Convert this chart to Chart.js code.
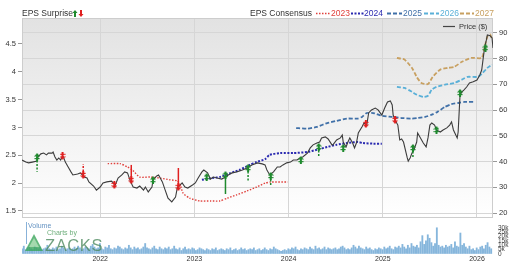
<!DOCTYPE html>
<html><head><meta charset="utf-8">
<script src="https://cdn.jsdelivr.net/npm/chart.js@4.4.1/dist/chart.umd.min.js"></script>
<style>
html,body{margin:0;padding:0;background:#fff;width:522px;height:264px;overflow:hidden;font-family:"Liberation Sans",Arial,Helvetica,sans-serif;}
#wrap{position:relative;width:522px;height:264px;}
canvas{position:absolute;left:0;}
.t{position:absolute;white-space:nowrap;line-height:1;}
</style></head><body>
<div id="wrap">
<canvas id="main" width="522" height="264" style="top:0"></canvas>
<canvas id="vol" width="522" height="46" style="top:218px"></canvas>
<svg width="522" height="30" style="position:absolute;left:0;top:0">
  <polygon points="75,10 77.5,13 76,13 76,17 74,17 74,13 72.5,13" fill="#1f8a2e"/>
  <polygon points="81,17 83.5,14 82,14 82,10 80,10 80,14 78.5,14" fill="#e02020"/>
  <line x1="316" y1="13.5" x2="330" y2="13.5" stroke="#e0403c" stroke-width="1.5" stroke-dasharray="1.5,1.5"/>
  <line x1="351" y1="13.5" x2="364" y2="13.5" stroke="#2a2ab0" stroke-width="2" stroke-dasharray="2,1.5"/>
  <line x1="387" y1="13.5" x2="402" y2="13.5" stroke="#4070a8" stroke-width="1.8" stroke-dasharray="4,2"/>
  <line x1="424" y1="13.5" x2="439" y2="13.5" stroke="#5ab0d8" stroke-width="1.8" stroke-dasharray="4,2"/>
  <line x1="460" y1="13.5" x2="474" y2="13.5" stroke="#c8a060" stroke-width="1.8" stroke-dasharray="4,2"/>
  <line x1="443" y1="26.5" x2="455" y2="26.5" stroke="#444" stroke-width="1.2"/>
</svg>
<span class="t" style="left:22px;top:9px;font-size:8.5px;color:#333">EPS Surprise</span>
<span class="t" style="left:250px;top:9px;font-size:8.5px;color:#333">EPS Consensus</span>
<span class="t" style="left:331px;top:9px;font-size:8.5px;color:#e0403c">2023</span>
<span class="t" style="left:364px;top:9px;font-size:8.5px;color:#2a2ab0">2024</span>
<span class="t" style="left:403px;top:9px;font-size:8.5px;color:#4070a8">2025</span>
<span class="t" style="left:440px;top:9px;font-size:8.5px;color:#5ab0d8">2026</span>
<span class="t" style="left:475px;top:9px;font-size:8.5px;color:#c8a060">2027</span>
<span class="t" style="left:459px;top:23px;font-size:7.5px;color:#333">Price ($)</span>
<div style="position:absolute;left:26px;top:222px;width:0;height:22px;border-left:1px solid #6a9fd0;opacity:.8"></div>
<span class="t" style="left:28px;top:222px;font-size:7px;color:#4a80b8;opacity:.85">Volume</span>
<span class="t" style="left:47px;top:229px;font-size:7px;color:#4a9a5a;opacity:.8">Charts by</span>
<svg width="22" height="20" style="position:absolute;left:25px;top:234px;opacity:.8">
  <polygon points="9,0 18,17 0,17" fill="#3aa55a"/>
  <polygon points="9,4 14,13 4,13" fill="#8fd09a"/>
</svg>
<span class="t" style="left:45px;top:237px;font-size:16.5px;letter-spacing:0.6px;color:#4e8a60;opacity:.8">ZACKS</span>
</div>
<script>
// ---------- data ----------
const YEAR_TICKS = [2022, 2023, 2024, 2025, 2026];
const EPS_TICKS = [1.5, 2, 2.5, 3, 3.5, 4, 4.5];
const PRICE_TICKS = [20, 30, 40, 50, 60, 70, 80, 90];
const VOL_TICKS_K = [0, 5, 10, 15, 20, 25, 30];

const PRICE_T = [2021.17,2021.21,2021.24,2021.28,2021.33,2021.34,2021.37,2021.40,2021.43,2021.45,2021.49,2021.50,2021.52,2021.54,2021.56,2021.58,2021.60,2021.61,2021.63,2021.66,2021.69,2021.71,2021.76,2021.79,2021.81,2021.83,2021.86,2021.88,2021.93,2021.96,
2022.00,2022.03,2022.07,2022.12,2022.16,2022.19,2022.23,2022.26,2022.29,2022.32,2022.35,2022.39,2022.42,2022.46,2022.48,2022.51,2022.55,2022.56,2022.60,2022.62,2022.66,2022.69,2022.72,2022.76,2022.80,2022.82,2022.83,2022.87,2022.90,2022.93,2022.98,
2023.01,2023.04,2023.08,2023.10,2023.14,2023.17,2023.20,2023.24,2023.29,2023.33,2023.36,2023.40,2023.45,2023.51,2023.56,2023.61,2023.67,2023.72,2023.75,2023.77,2023.80,2023.84,2023.88,2023.91,2023.94,2023.98,
2024.02,2024.05,2024.09,2024.12,2024.15,2024.20,2024.23,2024.26,2024.30,2024.33,2024.35,2024.39,2024.42,2024.46,2024.47,2024.51,2024.55,2024.57,2024.58,2024.61,2024.63,2024.65,2024.68,2024.70,2024.72,2024.74,2024.78,2024.80,2024.83,2024.85,2024.88,2024.92,2024.95,2024.99,
2025.02,2025.05,2025.08,2025.10,2025.11,2025.13,2025.16,2025.18,2025.20,2025.22,2025.26,2025.27,2025.29,2025.31,2025.33,2025.36,2025.37,2025.40,2025.43,2025.46,2025.48,2025.50,2025.52,2025.55,2025.57,2025.61,2025.64,2025.68,2025.71,2025.73,2025.75,2025.79,2025.80,2025.82,2025.84,2025.86,2025.89,2025.92,2025.96,
2026.00,2026.03,2026.05,2026.08,2026.10,2026.11,2026.14,2026.16,2026.17];
const PRICE = [40.6,39.8,39.5,39.8,40.2,41.8,43.0,43.3,42.6,43.3,43.3,43.7,41.8,40.6,41.4,40.6,42.2,41.8,39.8,37.9,36.0,34.8,35.2,35.6,34.8,34.0,33.6,32.1,30.5,28.9,
30.1,31.7,32.1,32.4,30.9,33.6,34.8,36.0,35.6,32.4,30.1,29.7,30.5,28.9,30.1,28.2,30.1,32.8,34.4,34.8,32.1,28.9,25.8,24.3,26.2,30.1,30.1,31.7,30.1,29.7,30.9,
31.7,33.6,36.0,36.7,35.6,33.2,34.0,33.6,33.2,34.0,34.8,35.6,36.0,36.7,37.5,38.7,39.5,39.1,38.7,36.7,34.8,36.0,37.9,37.9,38.7,39.5,
39.8,40.6,40.6,41.4,41.8,43.3,45.3,46.5,47.2,47.6,49.2,49.6,48.8,46.5,46.5,48.4,49.2,50.3,47.6,45.7,47.6,49.2,47.2,45.3,47.2,51.1,53.5,55.0,54.2,58.9,60.1,60.8,60.1,58.1,
60.8,63.2,63.6,62.0,58.1,56.2,54.2,48.4,48.8,47.6,41.4,40.2,41.4,43.3,44.5,47.6,51.1,49.2,47.2,45.7,49.2,54.2,55.0,54.2,52.3,51.5,52.3,53.1,54.2,55.4,52.3,49.2,51.5,65.9,67.1,67.8,69.0,70.6,71.0,
71.7,73.7,75.6,84.2,87.3,89.2,88.9,88.1,84.2];

// EPS surprises: date, price where marker sits, direction, end of surprise bar (price units), solid bar?
const SURPRISE_T     = [2021.33,2021.60,2021.82,2022.15,2022.33,2022.56,2022.83,2023.13,2023.33,2023.57,2023.81,2024.13,2024.32,2024.58,2024.82,2025.13,2025.32,2025.57,2025.82,2026.09];
const SURPRISE_PRICE = [41.8,42.2,34.8,30.9,32.8,32.8,30.1,34.0,34.8,37.5,34.4,40.6,45.7,45.3,54.6,56.2,45.3,52.3,66.7,84.2];
const SURPRISE_DIR   = ['up','down','down','down','down','up','down','up','up','up','up','up','up','up','down','down','up','up','up','up'];
const SURPRISE_TAIL  = [36.0,null,39.1,null,38.7,null,37.5,null,27.4,32.4,30.9,null,41.8,null,null,null,41.4,null,null,null];
const SURPRISE_SOLID = [false,false,false,false,true,false,true,false,true,false,false,false,false,false,false,false,false,false,false,false];

// EPS consensus by fiscal year
const C2023_T = [2022.08,2022.21,2022.29,2022.34,2022.42,2022.53,2022.64,2022.74,2022.82,2022.85,2022.88,2022.95,2023.06,2023.17,2023.27,2023.35,2023.45,2023.56,2023.66,2023.75,2023.81,2023.99];
const C2023   = [2.35,2.35,2.29,2.24,2.11,2.11,2.09,2.06,2.04,1.97,1.82,1.73,1.68,1.68,1.68,1.73,1.79,1.86,1.93,2.00,2.02,2.02];
const C2024_T = [2023.08,2023.17,2023.27,2023.38,2023.48,2023.59,2023.66,2023.75,2023.80,2023.91,2024.05,2024.20,2024.30,2024.41,2024.51,2024.62,2024.73,2024.79,2024.90,2024.99];
const C2024   = [2.06,2.09,2.11,2.18,2.24,2.33,2.38,2.43,2.51,2.54,2.54,2.56,2.60,2.65,2.69,2.72,2.74,2.72,2.71,2.71];
const C2025_T = [2024.08,2024.20,2024.30,2024.41,2024.51,2024.62,2024.73,2024.78,2024.83,2024.90,2024.99,2025.10,2025.20,2025.31,2025.37,2025.45,2025.52,2025.58,2025.66,2025.73,2025.80,2025.87,2025.97];
const C2025   = [2.99,2.98,3.01,3.08,3.12,3.16,3.16,3.19,3.26,3.26,3.21,3.19,3.17,3.16,3.17,3.19,3.23,3.28,3.37,3.42,3.44,3.46,3.46];
const C2026_T = [2025.15,2025.23,2025.31,2025.36,2025.43,2025.48,2025.52,2025.57,2025.66,2025.76,2025.84,2025.90,2026.01,2026.06,2026.11,2026.16];
const C2026   = [3.73,3.71,3.64,3.59,3.55,3.57,3.68,3.73,3.77,3.80,3.86,3.91,3.91,3.98,4.07,4.13];
const C2027_T = [2025.15,2025.23,2025.31,2025.36,2025.41,2025.48,2025.53,2025.61,2025.69,2025.76,2025.84,2025.94,2026.05,2026.08,2026.11,2026.14,2026.16];
const C2027   = [4.25,4.22,4.07,3.91,3.80,3.78,3.91,4.04,4.07,4.09,4.18,4.25,4.25,4.43,4.63,4.67,4.58];

// weekly volume (thousands of shares), first week starting at VOL_START
const VOL_START = 2021.17;
const VOLUME_K = [
6,9,5,7,8,6,5,9,7,6,8,5,6,7,10,6,5,7,6,8,5,6,9,7,5,6,
7,5,6,8,6,9,7,5,6,8,7,6,9,11,8,6,7,12,6,5,8,7,10,6,5,7,
6,9,8,6,5,7,6,10,7,5,8,6,7,5,6,8,12,7,6,5,7,9,6,5,8,6,
5,7,6,8,5,6,9,6,5,7,4,6,8,5,6,5,7,6,4,5,7,6,5,4,6,5,
4,6,5,7,4,5,6,5,4,6,5,7,4,5,6,4,5,7,5,6,4,5,6,5,7,4,
5,6,4,5,7,5,4,6,5,8,6,5,4,3,4,5,4,6,5,7,6,8,5,4,6,5,
7,6,5,8,6,5,9,6,7,5,6,8,5,7,6,5,6,7,5,6,8,9,7,5,6,5,
7,10,8,6,9,7,6,5,8,6,7,5,4,6,5,7,6,5,8,6,7,9,6,5,8,7,
9,7,11,8,6,10,7,12,9,8,10,7,14,21,11,15,22,18,13,9,12,30,10,8,9,7,
10,8,9,11,7,14,9,8,24,10,12,8,6,9,5,6,4,7,5,8,9,6,10,13,8,6];

// ---------- drawing ----------
const X_MIN = 2021.17, X_MAX = 2026.17;
const FONT = '"Liberation Sans", Arial, sans-serif';

function arrowCanvas(color, up) {
  const c = document.createElement('canvas'); c.width = 6; c.height = 8;
  const g = c.getContext('2d'); g.fillStyle = color;
  g.save();
  if (!up) { g.translate(0, 8); g.scale(1, -1); }
  g.beginPath(); g.moveTo(3, 0); g.lineTo(6, 3.5); g.lineTo(0, 3.5); g.closePath(); g.fill();
  g.fillRect(2, 3, 2, 5);
  g.fillRect(0.5, 5, 5, 1.2);
  g.restore();
  return c;
}
const UP = arrowCanvas('#1f8a2e', true), DOWN = arrowCanvas('#e02020', false);

const xy = (ts, vs) => ts.map((t, i) => ({x: t, y: vs[i]}));

const datasets = [];
datasets.push({type:'line', data: SURPRISE_T.map((t,i)=>SURPRISE_DIR[i]==='up'?{x:t,y:SURPRISE_PRICE[i]}:null).filter(Boolean),
  yAxisID:'price', showLine:false, pointStyle: UP, pointRadius: 4});
datasets.push({type:'line', data: SURPRISE_T.map((t,i)=>SURPRISE_DIR[i]==='down'?{x:t,y:SURPRISE_PRICE[i]}:null).filter(Boolean),
  yAxisID:'price', showLine:false, pointStyle: DOWN, pointRadius: 4});
SURPRISE_T.forEach((t, i) => {
  if (SURPRISE_TAIL[i] == null) return;
  const col = SURPRISE_DIR[i] === 'up' ? '#1f8a2e' : '#e02020';
  datasets.push({type:'line', data:[{x:t,y:SURPRISE_PRICE[i]},{x:t,y:SURPRISE_TAIL[i]}], yAxisID:'price',
    borderColor: col, borderWidth: 1.5, borderDash: SURPRISE_SOLID[i] ? [] : [2,1.5], pointRadius: 0});
});
datasets.push({type:'line', data: xy(PRICE_T, PRICE), yAxisID:'price', borderColor:'#3c3c3c', borderWidth:1.1, pointRadius:0, tension:0});
const CONS = [
  [C2027_T, C2027, '#c8a060', [4,2], 1.8],
  [C2026_T, C2026, '#5ab0d8', [4,2], 1.8],
  [C2025_T, C2025, '#4070a8', [4,2], 1.8],
  [C2024_T, C2024, '#2a2ab0', [2,1.5], 2],
  [C2023_T, C2023, '#e0403c', [1.5,1.5], 1.4],
];
CONS.forEach(([t, v, c, d, w]) => datasets.push({type:'line', data: xy(t, v), yAxisID:'eps', borderColor:c, borderDash:d, borderWidth:w, pointRadius:0, tension:0.2}));

const bgPlugin = {
  id: 'bg',
  beforeDraw(chart) {
    const {ctx, chartArea: a} = chart;
    const g = ctx.createLinearGradient(0, a.top, 0, a.bottom);
    g.addColorStop(0, '#e2e2e2'); g.addColorStop(1, '#ffffff');
    ctx.save(); ctx.fillStyle = g; ctx.fillRect(a.left, a.top, a.right - a.left, a.bottom - a.top); ctx.restore();
  },
  beforeDatasetsDraw(chart) {
    const {ctx, chartArea: a} = chart;
    ctx.save(); ctx.strokeStyle = '#cdcdcd'; ctx.lineWidth = 1;
    ctx.strokeRect(Math.round(a.left) + 0.5, Math.round(a.top) + 0.5, Math.round(a.right - a.left) - 1, Math.round(a.bottom - a.top) - 1);
    ctx.restore();
  }
};

const setTicks = arr => s => { s.ticks = arr.map(v => ({value: v})); };

new Chart(document.getElementById('main'), {
  data: {datasets},
  plugins: [bgPlugin],
  options: {
    responsive: false, animation: false, devicePixelRatio: 1,
    layout: {padding: {top: 18, bottom: 46, left: 0, right: 0}},
    plugins: {legend: {display: false}, tooltip: {enabled: false}},
    scales: {
      x: {type: 'linear', min: X_MIN, max: X_MAX, position: 'bottom',
          afterBuildTicks: setTicks(YEAR_TICKS),
          grid: {color: '#d6d6d6', drawTicks: false}, border: {display: false},
          ticks: {display: false}, afterFit: s => { s.height = 0; }},
      eps: {type: 'linear', position: 'left', min: 1.374, max: 4.967,
          afterBuildTicks: setTicks(EPS_TICKS),
          grid: {drawOnChartArea: false, tickLength: 4, tickColor: '#999'}, border: {display: false},
          ticks: {font: {family: FONT, size: 7.5}, color: '#333', padding: 2, callback: v => String(v)},
          afterFit: s => { s.width = 22; }},
      price: {type: 'linear', position: 'right', min: 18.06, max: 95.83,
          afterBuildTicks: setTicks(PRICE_TICKS),
          grid: {color: '#d6d6d6', tickLength: 4, tickColor: '#999'}, border: {display: false},
          ticks: {font: {family: FONT, size: 7.5}, color: '#333', padding: 2},
          afterFit: s => { s.width = 29; }}
    }
  }
});

const volData = VOLUME_K.map((v, i) => ({x: VOL_START + i / 52, y: v}));
new Chart(document.getElementById('vol'), {
  type: 'bar',
  data: {datasets: [{data: volData, backgroundColor: '#86b6dc', borderWidth: 0, barThickness: 1.2, xAxisID: 'xv', yAxisID: 'vol'}]},
  options: {
    responsive: false, animation: false, devicePixelRatio: 1,
    layout: {padding: {top: 3, left: 22, right: 0, bottom: 0}},
    plugins: {legend: {display: false}, tooltip: {enabled: false}},
    scales: {
      xv: {type: 'linear', position: 'bottom', axis: 'x', min: X_MIN, max: X_MAX, offset: false,
          afterBuildTicks: setTicks(YEAR_TICKS),
          grid: {display: false, drawTicks: false}, border: {display: false},
          ticks: {display: true, autoSkip: false, font: {family: FONT, size: 7}, color: '#333', padding: 1, maxRotation: 0, minRotation: 0,
                  callback: v => String(v)},
          afterFit: s => { s.height = 10; }},
      vol: {type: 'linear', position: 'right', axis: 'y', min: 0, max: 31,
          afterBuildTicks: setTicks(VOL_TICKS_K),
          grid: {drawOnChartArea: false, drawTicks: false}, border: {display: false},
          ticks: {autoSkip: false, font: {family: FONT, size: 6.5}, color: '#444', padding: 5,
                  callback: v => v === 0 ? '0' : v + 'k'},
          afterFit: s => { s.width = 29; }}
    }
  }
});
</script>
</body></html>
